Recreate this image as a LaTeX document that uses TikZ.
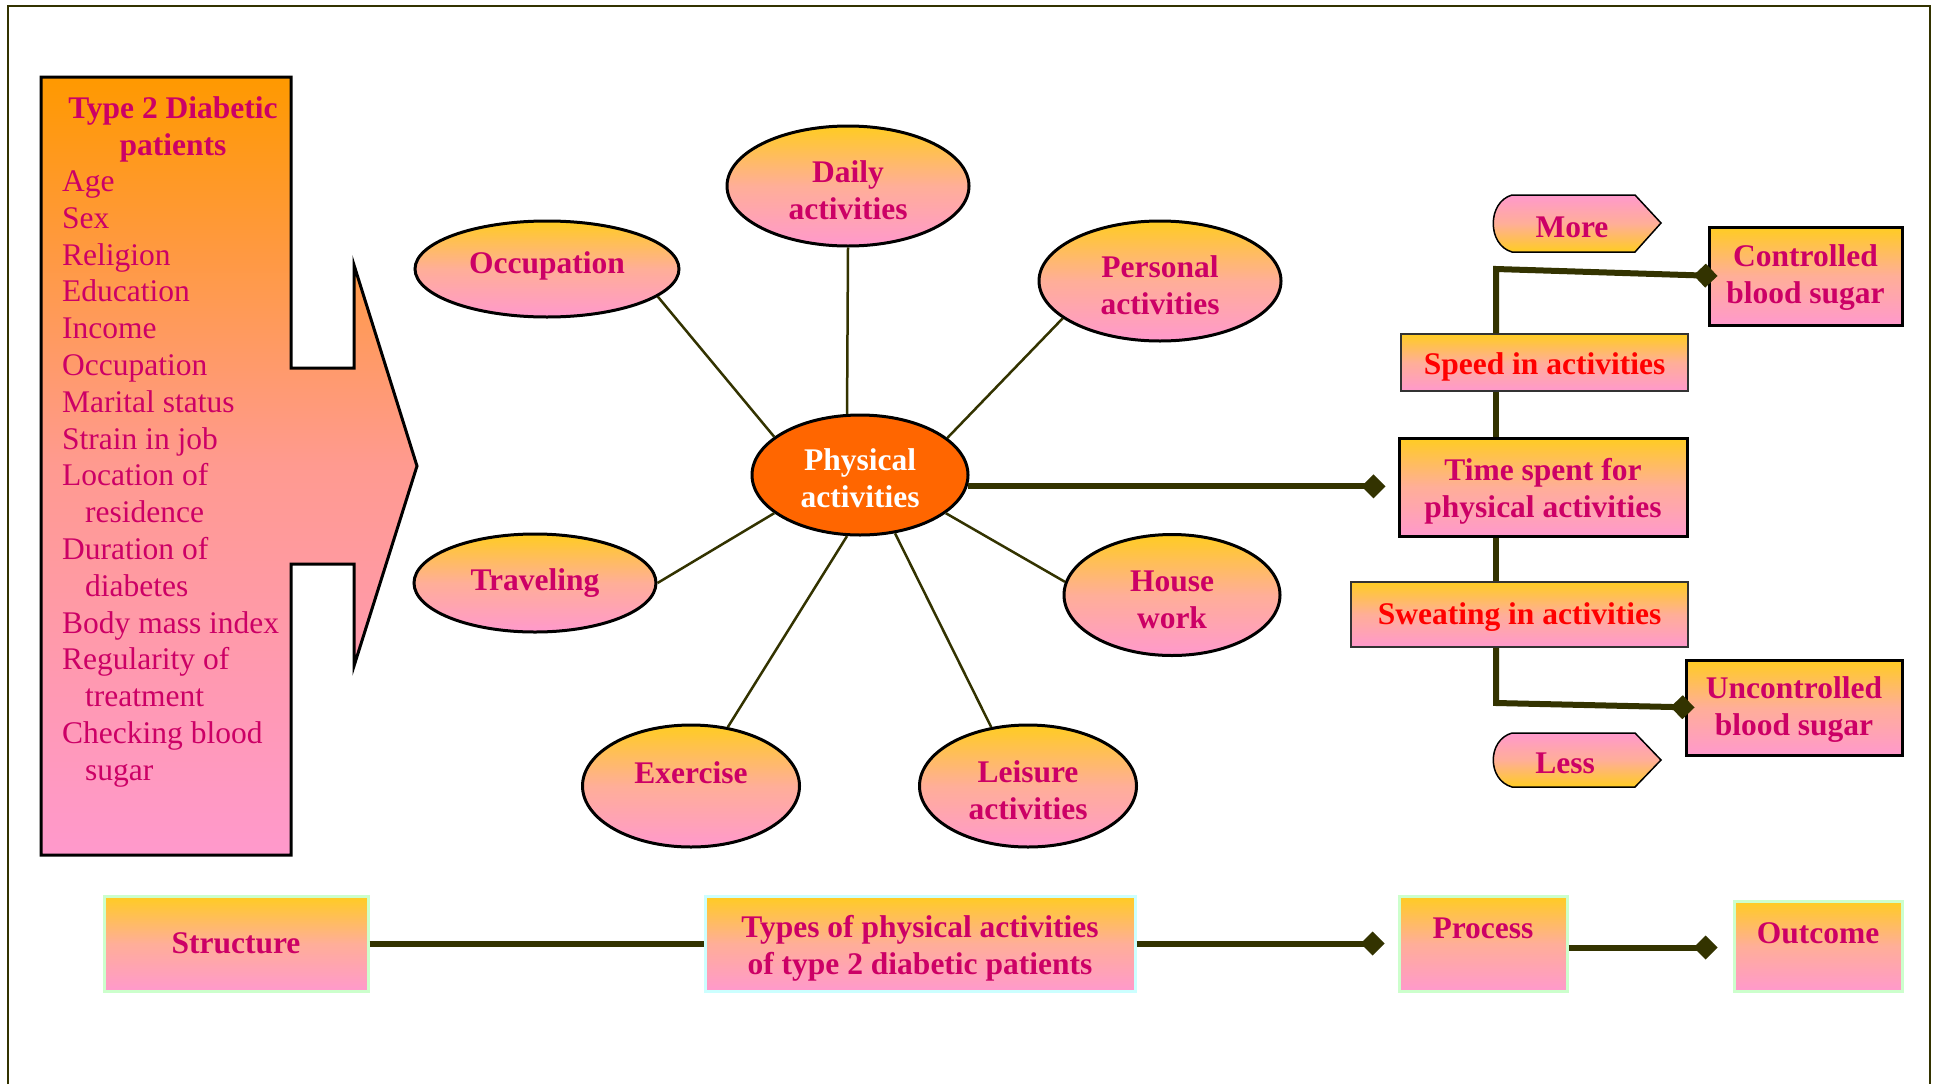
\documentclass[tikz,border=0pt]{standalone}
\usepackage{fontspec}
\setmainfont{Liberation Serif}
\usetikzlibrary{shapes.geometric,arrows.meta,calc}
\definecolor{olv}{HTML}{333300}
\definecolor{txt}{HTML}{CC0066}
\definecolor{gyel}{HTML}{FFCC22}
\definecolor{gmid}{HTML}{FFAE98}
\definecolor{gpink}{HTML}{FF99CC}
\definecolor{gorange}{HTML}{FF9900}
\definecolor{gomid}{HTML}{FF9A90}
\definecolor{ctr}{HTML}{FF6600}
\definecolor{lgreen}{HTML}{CCFFCC}
\definecolor{lcyan}{HTML}{CCFFFF}
\definecolor{thinb}{HTML}{333333}
\newcommand\lo[1][31pt]{\rule{0pt}{#1}}
\begin{document}
\begin{tikzpicture}[x=1pt,y=-1pt,
  every node/.style={font=\fontsize{31.5}{36.8}\selectfont\bfseries, text=txt, inner sep=0pt, align=center},
  grad/.style={top color=gyel, bottom color=gpink, middle color=gmid},
  ell/.style={ellipse, draw=black, line width=3pt, grad},
  hbox/.style={rectangle, draw=black, line width=3pt, grad},
  lbox/.style={rectangle, draw=thinb, line width=1.5pt, grad, text=red},
  gbox/.style={rectangle, draw=lgreen, line width=3pt, grad},
  spoke/.style={draw=olv, line width=2.5pt},
  conn/.style={draw=olv, line width=6pt},
  dia/.style={-{Diamond[length=24pt,width=24pt]}},
  tag/.style={draw=black, line width=1.5pt, top color=gpink, bottom color=gyel, middle color=gmid},
  listtext/.style={anchor=base west, font=\fontsize{31.5}{36.8}\selectfont, align=left}
]
\useasboundingbox (0,0) rectangle (1935,1084);
% frame
\draw[olv, line width=2.5pt] (8,1084) -- (8,6) -- (1930,6) -- (1930,1084);

% left box with arrow
\draw[line width=3pt, draw=black, top color=gorange, bottom color=gpink, middle color=gomid]
  (41,77) -- (291,77) -- (291,368) -- (354,368) -- (354,265) -- (417,466)
  -- (354,666) -- (354,564) -- (291,564) -- (291,855) -- (41,855) -- cycle;
\node (title) at (173,125) {\lo Type 2 Diabetic\\patients};
\foreach \t [count=\i] in {Age,Sex,Religion,Education,Income,Occupation,Marital status,Strain in job,Location of,\hspace*{23pt}residence,Duration of,\hspace*{23pt}diabetes,Body mass index,Regularity of,\hspace*{23pt}treatment,Checking blood,\hspace*{23pt}sugar}
  \node[listtext] (li\i) at (62,{191.5+36.8*(\i-1)}) {\t};

% ellipses
\node[ell, minimum width=264pt, minimum height=96pt] (occ) at (547,269) {\raisebox{3pt}[\height][\depth]{Occupation}};
\node[ell, minimum width=242pt, minimum height=120pt] (daily) at (848,186) {\lo Daily\\activities};
\node[ell, minimum width=242pt, minimum height=120pt] (pers) at (1160,281) {\lo Personal\\activities};
\node[ell, minimum width=242pt, minimum height=98pt] (trav) at (535,583) {Traveling};
\node[ell, minimum width=216pt, minimum height=121pt] (house) at (1172,595) {\lo House\\work};
\node[ell, minimum width=217pt, minimum height=122pt] (exer) at (691,786) {\raisebox{13pt}[\height][\depth]{Exercise}};
\node[ell, minimum width=217pt, minimum height=122pt] (leis) at (1028,786) {\lo Leisure\\activities};
\node[ellipse, draw=black, line width=3pt, fill=ctr, text=white, minimum width=216pt, minimum height=120pt] (pa) at (860,475) {\lo[28pt]Physical\\activities};

% spokes
\draw[spoke] (occ.-14) -- (pa.156);
\draw[spoke] (daily.south) -- (pa.102);
\draw[spoke] (pers.201) -- (pa.23.5);
\draw[spoke] (trav.east) -- (pa.204);
\draw[spoke] (house.173.5) -- (pa.336);
\draw[spoke] (exer.58) -- (pa.258);
\draw[spoke] (leis.122) -- (pa.301);

% right column
\node[hbox, minimum width=193pt, minimum height=98pt] (ctrl) at (1805.5,276) {\lo[25pt]Controlled\\blood sugar};
\node[lbox, minimum width=287pt, minimum height=57pt] (speed) at (1544.5,362.5) {\lo Speed in activities};
\node[hbox, minimum width=288pt, minimum height=98pt] (time) at (1543,487) {\lo Time spent for\\physical activities};
\node[lbox, minimum width=337pt, minimum height=65pt] (sweat) at (1519.5,614.5) {\lo[26.5pt]Sweating in activities};
\node[hbox, minimum width=216pt, minimum height=95pt] (unc) at (1794,707.5) {\lo[26pt]Uncontrolled\\blood sugar};

\draw[tag] (1512,195) -- (1635,195) -- (1661,223) -- (1635,252) -- (1512,252) .. controls (1487,245) and (1487,202) .. (1512,195) -- cycle;
\node (more) at (1572,227) {More};
\draw[tag] (1512,733) -- (1635,733) -- (1661,760) -- (1635,787) -- (1512,787) .. controls (1487,780) and (1487,740) .. (1512,733) -- cycle;
\node (less) at (1565,763) {Less};

\coordinate (vx) at (1496,0);
\coordinate (topc) at (1496,269);
\coordinate (botc) at (1496,703);
\draw[conn, dia] (speed.north -| vx) -- (topc) -- ($(ctrl.west)+(10,0)$);
\draw[conn] (speed.south -| vx) -- (time.north -| vx);
\draw[conn] (time.south -| vx) -- (sweat.north -| vx);
\draw[conn, dia] (sweat.south -| vx) -- (botc) -- ($(unc.west)+(10,0)$);
\draw[conn, dia] (pa.-6) -- ($(pa.-6 -| time.west)+(-12,0)$);

% bottom row
\node[gbox, minimum width=264pt, minimum height=95pt] (struct) at (236,943.5) {Structure};
\node[gbox, draw=lcyan, minimum width=430pt, minimum height=95pt] (types) at (920,943.5) {\lo Types of physical activities\\of type 2 diabetic patients};
\node[gbox, minimum width=168pt, minimum height=95pt] (proc) at (1483,943.5) {\raisebox{15pt}[\height][\depth]{Process}};
\node[gbox, minimum width=168pt, minimum height=90pt] (outc) at (1818,946) {\raisebox{13pt}[\height][\depth]{Outcome}};
\draw[conn] (struct.east) -- (types.west);
\draw[conn, dia] (types.east) -- ($(proc.west)+(-13,0)$);
\draw[conn, dia] ($(proc.east)+(0,4)$) -- ($(proc.east -| outc.west)+(-15,4)$);
\end{tikzpicture}
\end{document}
